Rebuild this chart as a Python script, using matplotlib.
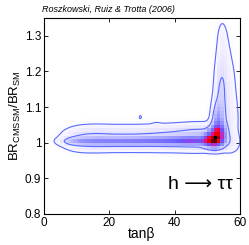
import numpy as np
import matplotlib
matplotlib.use("Agg")
import matplotlib.pyplot as plt
from matplotlib.colors import LinearSegmentedColormap

# posterior read off the picture as blobs: centre (tanb, BR), spread and relative weight
# core of the horizontal band
core_tanb = [9, 12, 16, 20, 24, 28, 32, 36, 40, 44, 47]
core_br = [1.004, 1.004, 1.004, 1.004, 1.004, 1.004, 1.005, 1.005, 1.005, 1.006, 1.006]
core_weight = [0.06, 0.11, 0.14, 0.15, 0.15, 0.16, 0.17, 0.18, 0.20, 0.22, 0.26]
# broad halo round the band
halo_tanb = [9, 13, 18, 24, 30, 36, 42, 48]
halo_br = [1.010, 1.012, 1.012, 1.012, 1.012, 1.013, 1.014, 1.015]
halo_weight = [0.04, 0.06, 0.07, 0.07, 0.07, 0.08, 0.09, 0.13]
# peak, small islands and the lower right
peak_tanb = [50.5, 52.3, 53.3, 57.0, 29.5, 34.5]
peak_br = [1.005, 1.010, 1.030, 1.000, 1.072, 1.050]
peak_sig_tanb = [1.5, 1.7, 1.3, 2.0, 0.3, 0.8]
peak_sig_br = [0.010, 0.014, 0.016, 0.020, 0.004, 0.004]
peak_weight = [0.30, 0.90, 0.55, 0.05, 0.03, 0.02]
# narrow spine of the vertical ridge
spine_tanb = [53.3, 53.9, 54.2, 54.4, 54.5, 54.5]
spine_br = [1.06, 1.10, 1.15, 1.20, 1.25, 1.30]
spine_weight = [0.22, 0.045, 0.045, 0.024, 0.007, 0.004]
# wide skirt of the vertical ridge
skirt_tanb = [55.5, 55.5, 55.4, 55.3, 55.0, 54.7, 54.5]
skirt_br = [1.05, 1.10, 1.15, 1.20, 1.25, 1.30, 1.35]
skirt_sig_tanb = [2.5, 2.5, 2.3, 2.2, 1.8, 1.4, 1.2]
skirt_weight = [0.053, 0.042, 0.037, 0.033, 0.027, 0.022, 0.007]

# points the two contours pass through
outer_anchor = (20, 1.052)
inner_anchor = (25, 1.024)

xticks = [0, 20, 40, 60]
yticks = [0.8, 0.9, 1.0, 1.1, 1.2, 1.3]
ytick_labels = ["0.8", "0.9", "1", "1.1", "1.2", "1.3"]


def density(t, v):
    t = np.asarray(t, dtype=float)
    v = np.asarray(v, dtype=float)
    d = np.zeros(np.broadcast(t, v).shape)
    blobs = []
    blobs += [(x, y, 3.0, 0.007, w) for x, y, w in zip(core_tanb, core_br, core_weight)]
    blobs += [(x, y, 3.5, 0.022, w) for x, y, w in zip(halo_tanb, halo_br, halo_weight)]
    blobs += list(zip(peak_tanb, peak_br, peak_sig_tanb, peak_sig_br, peak_weight))
    blobs += [(x, y, 1.05, 0.03, w) for x, y, w in zip(spine_tanb, spine_br, spine_weight)]
    blobs += [(x, y, s, 0.03, w) for x, y, s, w in zip(skirt_tanb, skirt_br, skirt_sig_tanb, skirt_weight)]
    for x0, y0, sx, sy, w in blobs:
        d = d + w * np.exp(-0.5 * (((t - x0) / sx) ** 2 + ((v - y0) / sy) ** 2))
    return d


# binned image, 1 unit in tanb by 0.01 in BR
xe = np.arange(0, 61, 1.0)
ye = np.arange(0.8, 1.3501, 0.01)
xc, yc = np.meshgrid(0.5 * (xe[1:] + xe[:-1]), 0.5 * (ye[1:] + ye[:-1]))
img = density(xc, yc)
peak = img.max()
img = img / peak

xf, yf = np.meshgrid(np.linspace(0, 60, 301), np.linspace(0.8, 1.35, 441))
fine = density(xf, yf) / peak
levels = [float(density(*outer_anchor)) / peak, float(density(*inner_anchor)) / peak]

cmap = LinearSegmentedColormap.from_list(
    "post",
    [(0.0, (1, 1, 1)), (0.03, (0.95, 0.94, 1)), (0.2, (0.6, 0.6, 1)),
     (0.4, (0.4, 0.35, 1)), (0.55, (0.85, 0.1, 0.7)), (0.65, (1, 0, 0.15)),
     (0.82, (0.9, 0, 0)), (1.0, (0, 0, 0))],
)

plt.rcParams["font.family"] = ["Liberation Sans", "DejaVu Sans"]
plt.rcParams["mathtext.fontset"] = "custom"
plt.rcParams["mathtext.rm"] = "Liberation Sans"
fig = plt.figure(figsize=(2.49, 2.45), dpi=100)
ax = fig.add_axes([44 / 249, 1 - 214 / 245, 196 / 249, 196 / 245])

ax.pcolormesh(xe, ye, img, cmap=cmap, vmin=0, vmax=1, shading="flat")
ax.contour(xf, yf, fine, levels=sorted(levels), colors=[(0.35, 0.42, 1.0)], linewidths=0.8)

ax.set_xlim(0, 60)
ax.set_ylim(0.8, 1.35)
ax.set_xticks(xticks)
ax.set_yticks(yticks)
ax.set_yticklabels(ytick_labels)
ax.tick_params(direction="in", length=3, width=0.6, top=True, right=True, labelsize=8.5, pad=2)
for s in ax.spines.values():
    s.set_linewidth(0.8)

ax.set_xlabel("tan\u03b2", fontsize=10, labelpad=-1)
ax.set_ylabel(r"BR$_{\rm CMSSM}$/BR$_{\rm SM}$", fontsize=9.5, labelpad=1)
ax.text(48, 0.882, "h \u27f6 \u03c4\u03c4", fontsize=14, ha="center", va="center",
        family=["Liberation Sans", "DejaVu Sans"])
fig.text(42 / 249, 1 - 9 / 245, "Roszkowski, Ruiz & Trotta (2006)", fontsize=6.5, style="italic",
         ha="left", va="center")

fig.savefig("out.png", dpi=100)
